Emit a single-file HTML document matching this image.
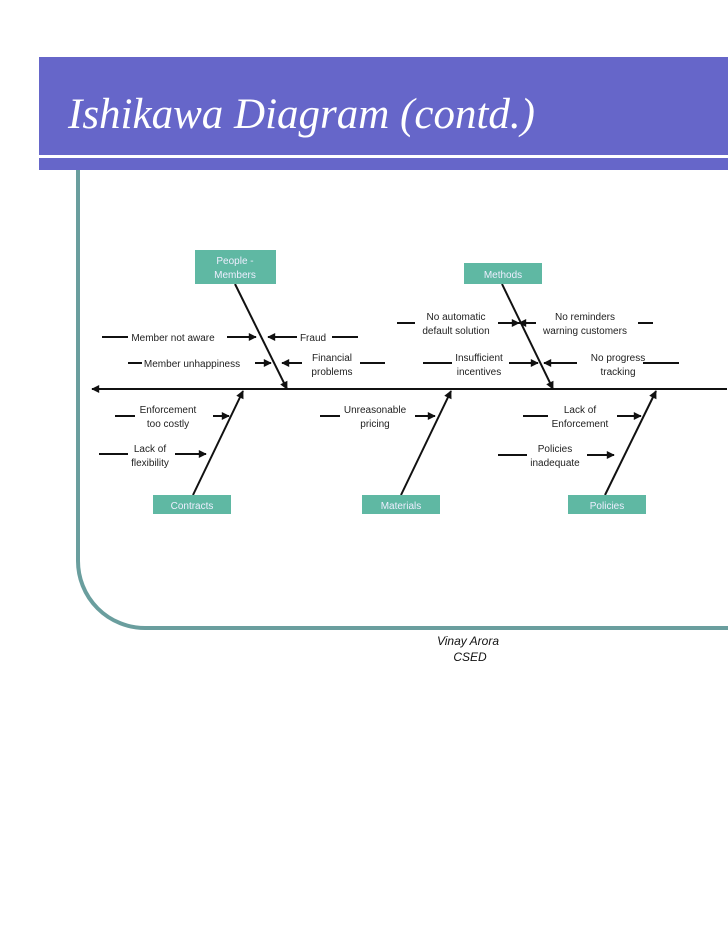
<!DOCTYPE html>
<html><head><meta charset="utf-8"><style>
html,body{margin:0;padding:0;background:#fff;width:728px;height:943px;overflow:hidden}
</style></head><body>
<svg width="728" height="943" viewBox="0 0 728 943" xmlns="http://www.w3.org/2000/svg">
<defs>
<marker id="a" viewBox="0 0 10 10" refX="9" refY="5" markerWidth="10" markerHeight="8" markerUnits="userSpaceOnUse" orient="auto"><path d="M0,0 L10,5 L0,10 z" fill="#111"/></marker>
</defs>
<rect x="39" y="57" width="689" height="98" fill="#6666c9"/>
<rect x="39" y="158" width="689" height="12" fill="#6666c9"/>
<text x="68" y="128" font-family="Liberation Serif, serif" font-style="italic" font-size="43" fill="#fff">Ishikawa Diagram (contd.)</text>
<path d="M78,170 L78,561 A67,67 0 0 0 145,628 L728,628" fill="none" stroke="#6a9e9e" stroke-width="4"/>
<g stroke="#111" stroke-width="2" fill="none">
<line x1="727" y1="389" x2="92" y2="389" marker-end="url(#a)"/>
<line x1="235" y1="284" x2="287" y2="389" marker-end="url(#a)"/>
<line x1="502" y1="284" x2="553" y2="389" marker-end="url(#a)"/>
<line x1="193" y1="495" x2="243" y2="391" marker-end="url(#a)"/>
<line x1="401" y1="495" x2="451" y2="391" marker-end="url(#a)"/>
<line x1="605" y1="495" x2="656" y2="391" marker-end="url(#a)"/>
<line x1="102" y1="337" x2="128" y2="337"/><line x1="227" y1="337" x2="256" y2="337" marker-end="url(#a)"/>
<line x1="297" y1="337" x2="268" y2="337" marker-end="url(#a)"/><line x1="332" y1="337" x2="358" y2="337"/>
<line x1="128" y1="363" x2="142" y2="363"/><line x1="255" y1="363" x2="271" y2="363" marker-end="url(#a)"/>
<line x1="302" y1="363" x2="282" y2="363" marker-end="url(#a)"/><line x1="360" y1="363" x2="385" y2="363"/>
<line x1="115" y1="416" x2="135" y2="416"/><line x1="213" y1="416" x2="229" y2="416" marker-end="url(#a)"/>
<line x1="99" y1="454" x2="128" y2="454"/><line x1="175" y1="454" x2="206" y2="454" marker-end="url(#a)"/>
<line x1="320" y1="416" x2="340" y2="416"/><line x1="415" y1="416" x2="435" y2="416" marker-end="url(#a)"/>
<line x1="397" y1="323" x2="415" y2="323"/><line x1="498" y1="323" x2="519" y2="323" marker-end="url(#a)"/>
<line x1="536" y1="323" x2="519" y2="323" marker-end="url(#a)"/><line x1="638" y1="323" x2="653" y2="323"/>
<line x1="423" y1="363" x2="452" y2="363"/><line x1="509" y1="363" x2="538" y2="363" marker-end="url(#a)"/>
<line x1="577" y1="363" x2="544" y2="363" marker-end="url(#a)"/><line x1="643" y1="363" x2="679" y2="363"/>
<line x1="523" y1="416" x2="548" y2="416"/><line x1="617" y1="416" x2="641" y2="416" marker-end="url(#a)"/>
<line x1="498" y1="455" x2="527" y2="455"/><line x1="587" y1="455" x2="614" y2="455" marker-end="url(#a)"/>
</g>
<g fill="#5fb8a3">
<rect x="195" y="250" width="81" height="34"/>
<rect x="464" y="263" width="78" height="21"/>
<rect x="153" y="495" width="78" height="19"/>
<rect x="362" y="495" width="78" height="19"/>
<rect x="568" y="495" width="78" height="19"/>
</g>
<g font-family="Liberation Sans, sans-serif" font-size="10" fill="#eef" text-anchor="middle">
<text x="235" y="264">People -</text><text x="235" y="278">Members</text>
<text x="503" y="278">Methods</text>
<text x="192" y="509">Contracts</text>
<text x="401" y="509">Materials</text>
<text x="607" y="509">Policies</text>
</g>
<g font-family="Liberation Sans, sans-serif" font-size="10" fill="#222" text-anchor="middle">
<text x="173" y="341">Member not aware</text>
<text x="313" y="341">Fraud</text>
<text x="192" y="367">Member unhappiness</text>
<text x="332" y="361">Financial</text><text x="332" y="375">problems</text>
<text x="168" y="413">Enforcement</text><text x="168" y="427">too costly</text>
<text x="150" y="452">Lack of</text><text x="150" y="466">flexibility</text>
<text x="375" y="413">Unreasonable</text><text x="375" y="427">pricing</text>
<text x="456" y="320">No automatic</text><text x="456" y="334">default solution</text>
<text x="585" y="320">No reminders</text><text x="585" y="334">warning customers</text>
<text x="479" y="361">Insufficient</text><text x="479" y="375">incentives</text>
<text x="618" y="361">No progress</text><text x="618" y="375">tracking</text>
<text x="580" y="413">Lack of</text><text x="580" y="427">Enforcement</text>
<text x="555" y="452">Policies</text><text x="555" y="466">inadequate</text>
</g>
<g font-family="Liberation Sans, sans-serif" font-size="12" font-style="italic" fill="#111" text-anchor="middle">
<text x="468" y="645">Vinay Arora</text><text x="470" y="661">CSED</text>
</g>
</svg>
</body></html>
